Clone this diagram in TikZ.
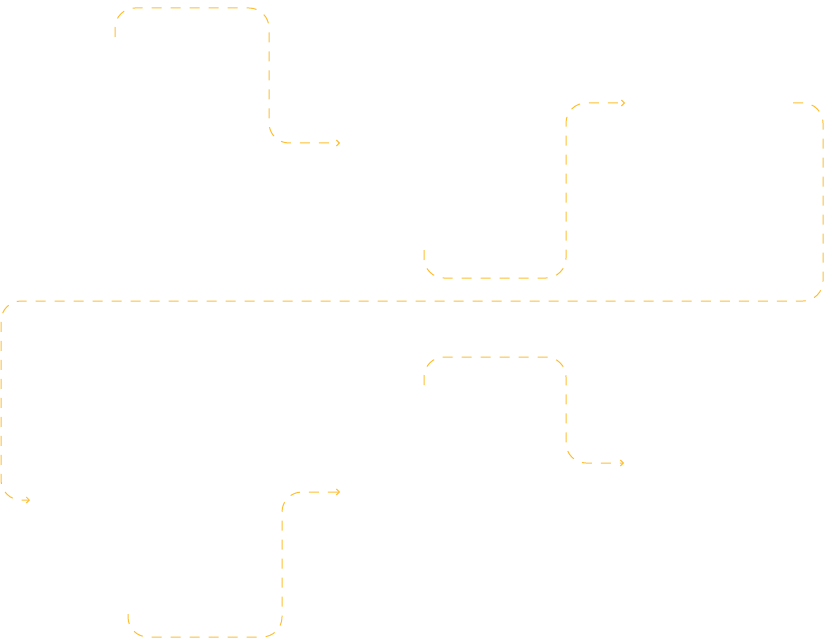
\documentclass[tikz,border=0pt]{standalone}
\usetikzlibrary{arrows.meta}
\definecolor{linkorange}{RGB}{255,190,50}
\begin{document}
\begin{tikzpicture}[x=1pt,y=-1pt,
  flow/.style={draw=linkorange, line width=1pt, dash pattern=on 10pt off 9pt,
    rounded corners=20pt, -{Straight Barb[length=3pt,width=6pt]}}]
\useasboundingbox (0,0) rectangle (824,639);
\coordinate (topStart) at (115,37);
\coordinate (topEnd) at (340,143);
\coordinate (midStart) at (424,250);
\coordinate (midEnd) at (625,103);
\coordinate (loopStart) at (793,103);
\coordinate (loopEnd) at (30,500);
\coordinate (lowStart) at (424,385);
\coordinate (lowEnd) at (624,463);
\coordinate (baseStart) at (128,614);
\coordinate (baseEnd) at (340,492);
\draw [flow] (topStart) |- (269,8) |- (topEnd);
\draw [flow] (midStart) |- (566,278) |- (midEnd);
\draw [flow] (loopStart) -| (823,301) -| (1,500) -- (loopEnd);
\draw [flow] (lowStart) |- (566,357) |- (lowEnd);
\draw [flow] (baseStart) |- (282,637) |- (baseEnd);
\end{tikzpicture}
\end{document}
